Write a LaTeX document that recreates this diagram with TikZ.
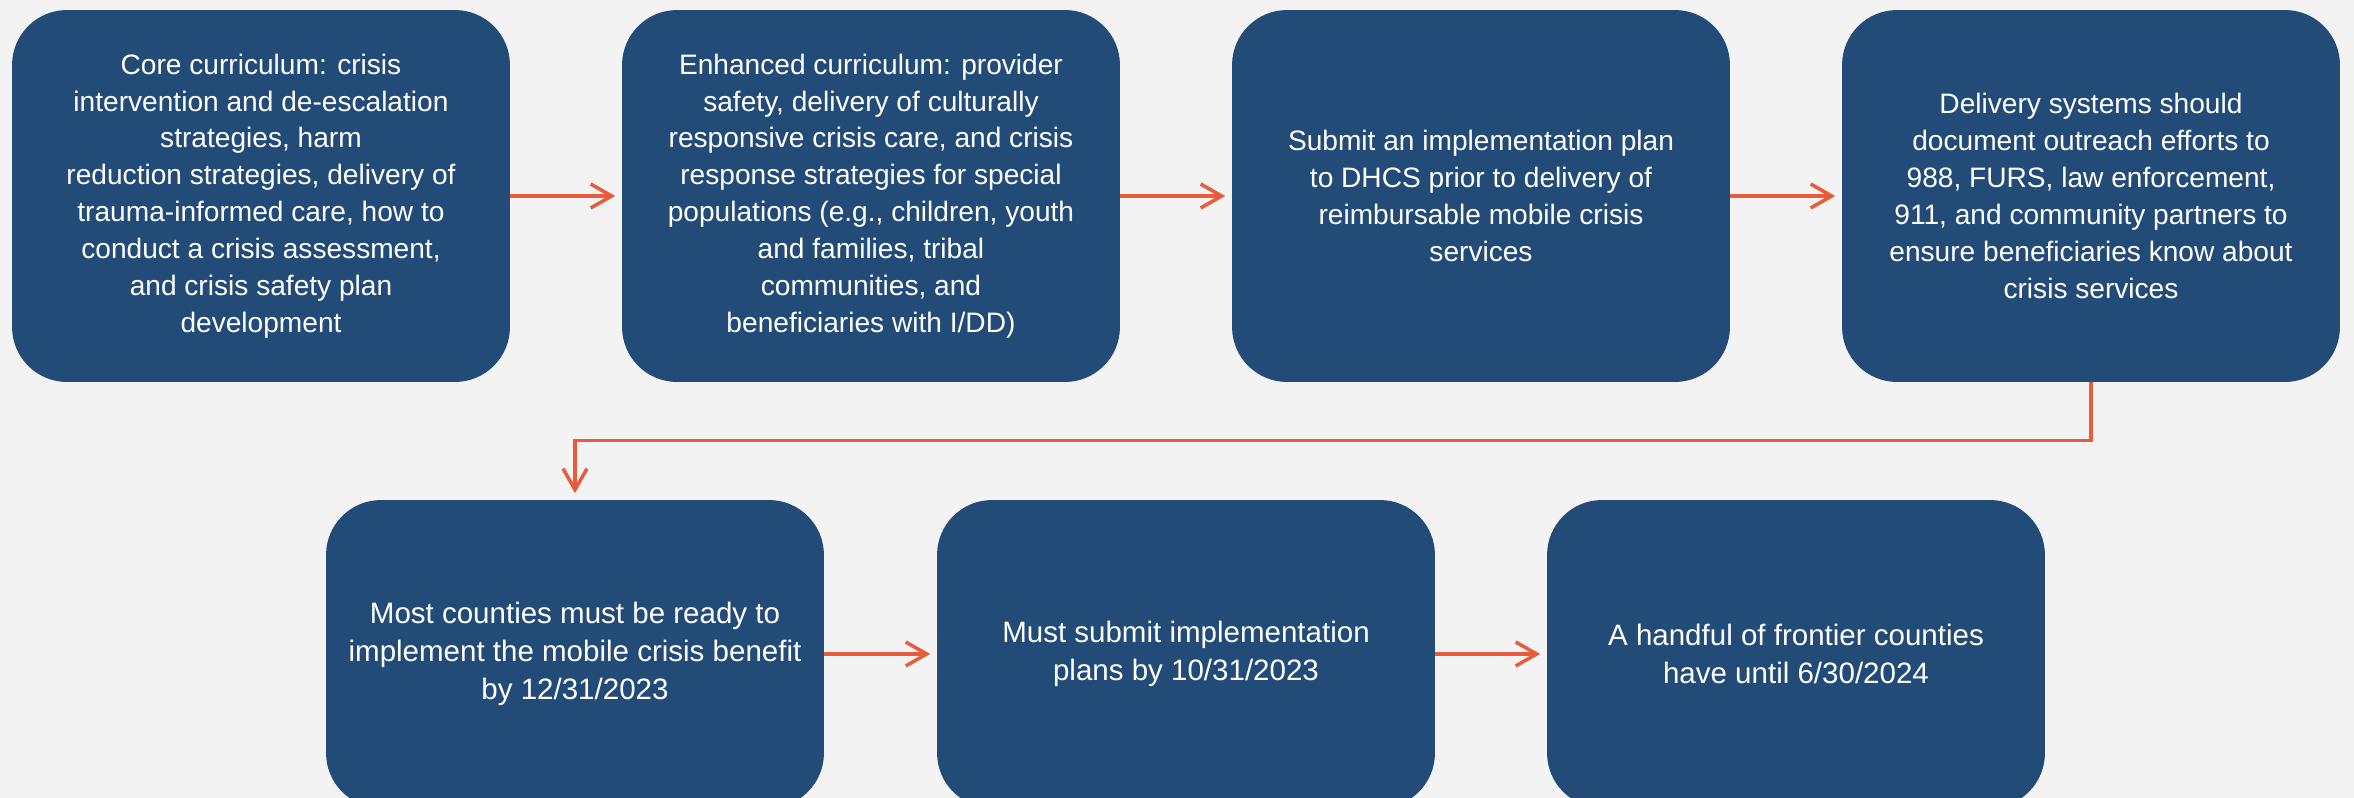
\documentclass[tikz,border=0pt]{standalone}
\usepackage{fontspec}
\setmainfont{Liberation Sans}
\usetikzlibrary{arrows.meta}

\definecolor{boxblue}{HTML}{224B78}
\definecolor{flowred}{HTML}{E95C3B}
\definecolor{pagegray}{HTML}{F3F3F3}

\tikzset{
  stagebox/.style={rectangle, fill=boxblue, text=white, align=center,
    minimum width=9.96cm, rounded corners=1.1cm, inner sep=0pt},
  toprow/.style={stagebox, minimum height=7.44cm, font=\fontsize{16}{21}\selectfont},
  lowrow/.style={stagebox, minimum height=6.16cm, font=\fontsize{16.8}{21.5}\selectfont},
  flow/.style={draw=flowred, line width=0.07cm,
    -{Straight Barb[length=0.42cm,width=0.48cm,line width=0.07cm]}, shorten >=0.13cm}
}

\begin{document}
\begin{tikzpicture}[x=0.02cm, y=-0.02cm]
  \useasboundingbox[fill=pagegray] (0,0) rectangle (2354,798);
  % first row
  \node[toprow] (core) at (261,196) {Core curriculum: crisis\\intervention and de-escalation\\strategies, harm\\reduction strategies, delivery of\\trauma-informed care, how to\\conduct a crisis assessment,\\and crisis safety plan\\development};
  \node[toprow] (enhanced) at (871,196) {Enhanced curriculum: provider\\safety, delivery of culturally\\responsive crisis care, and crisis\\response strategies for special\\populations (e.g., children, youth\\and families, tribal\\communities, and\\beneficiaries with I/DD)};
  \node[toprow] (plan) at (1481,196) {Submit an implementation plan\\to DHCS prior to delivery of\\reimbursable mobile crisis\\services};
  \node[toprow] (outreach) at (2091,196) {Delivery systems should\\document outreach efforts to\\988, FURS, law enforcement,\\911, and community partners to\\ensure beneficiaries know about\\crisis services};
  \draw[flow] (core) -- (enhanced);
  \draw[flow] (enhanced) -- (plan);
  \draw[flow] (plan) -- (outreach);
  % second row
  \node[lowrow] (ready) at (575,654) {Most counties must be ready to\\implement the mobile crisis benefit\\by 12/31/2023};
  \node[lowrow] (submit) at (1186,654) {Must submit implementation\\plans by 10/31/2023};
  \node[lowrow] (frontier) at (1796,654) {A handful of frontier counties\\have until 6/30/2024};
  \draw[flow] (outreach.south) -- ++(0,58) -| (ready.north);
  \draw[flow] (ready) -- (submit);
  \draw[flow] (submit) -- (frontier);
\end{tikzpicture}
\end{document}
